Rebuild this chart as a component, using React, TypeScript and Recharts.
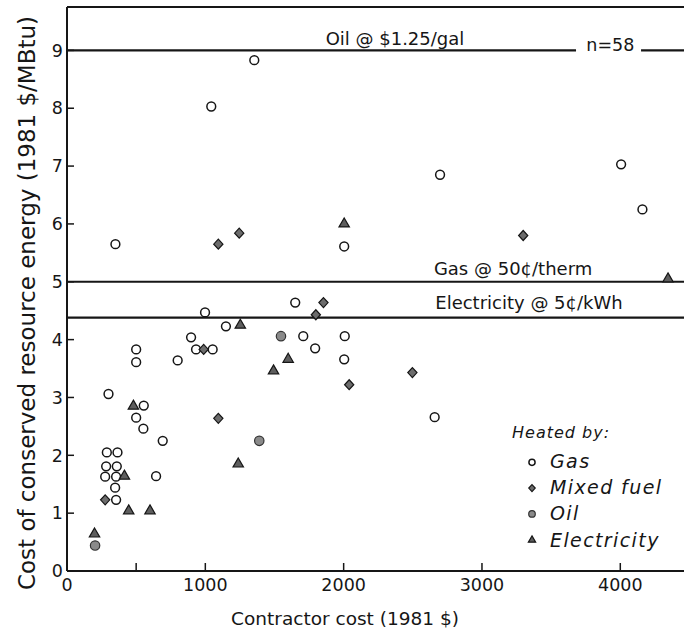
import {
  Legend,
  ReferenceDot,
  ReferenceLine,
  Scatter,
  ScatterChart,
  XAxis,
  YAxis,
} from "recharts";

const FONT = '"DejaVu Sans", "Liberation Sans", sans-serif';
const INK = "#161616";

// [contractor cost (1981 $), cost of conserved energy (1981 $/MBtu)]
const gasHomes: [number, number][] = [
  [350, 5.65], [2004, 5.61], [1043, 8.03], [1354, 8.83], [2697, 6.85],
  [4006, 7.03], [4160, 6.25], [998, 4.47], [1650, 4.64], [1149, 4.23],
  [897, 4.04], [933, 3.83], [1053, 3.83], [800, 3.64], [1708, 4.06],
  [1794, 3.85], [2008, 4.06], [2004, 3.66], [500, 3.83], [500, 3.61],
  [300, 3.06], [555, 2.86], [500, 2.65], [552, 2.46], [692, 2.25],
  [644, 1.64], [288, 2.05], [365, 2.05], [283, 1.81], [360, 1.81],
  [276, 1.63], [355, 1.63], [348, 1.44], [355, 1.23], [2658, 2.66],
];
const mixedHomes: [number, number][] = [
  [1094, 5.65], [1245, 5.84], [3298, 5.8], [1854, 4.64], [1799, 4.43],
  [988, 3.83], [2040, 3.22], [1094, 2.64], [276, 1.23], [2497, 3.43],
];
const oilHomes: [number, number][] = [
  [1547, 4.06], [1390, 2.25], [203, 0.44],
];
const electricHomes: [number, number][] = [
  [2004, 6.01], [4345, 5.06], [1253, 4.26], [1599, 3.67], [1493, 3.47],
  [480, 2.86], [415, 1.65], [446, 1.05], [600, 1.05], [1238, 1.86],
  [199, 0.65],
];

const seriesNames = ["Gas", "Mixed fuel", "Oil", "Electricity"];

const xTicks = [0, 500, 1000, 2000, 3000, 4000];
const xTopTicks = [500, 1000, 2000, 3000, 4000];
const yTicks = [0, 1, 2, 3, 4, 5, 6, 7, 8, 9];
const yRightTicks = [1, 2, 3, 4, 5, 6, 7, 8];

const OIL_PRICE = 9;
const GAS_PRICE = 5;
const ELECTRIC_PRICE = 4.38;

const toPoints = (rows: [number, number][]) =>
  rows.map(([x, y]) => ({ x, y }));

const drawMarker = (kind: string, cx: number, cy: number, s = 1) => {
  if (kind === "Gas") {
    return (
      <circle cx={cx} cy={cy} r={4.4 * s} fill="none" stroke={INK} strokeWidth={1.5} />
    );
  }
  if (kind === "Mixed fuel") {
    const w = 4.6 * s;
    const h = 5 * s;
    return (
      <polygon
        points={`${cx},${cy - h} ${cx + w},${cy} ${cx},${cy + h} ${cx - w},${cy}`}
        fill="#6c6c6c"
        stroke={INK}
        strokeWidth={1.2}
      />
    );
  }
  if (kind === "Oil") {
    return (
      <circle cx={cx} cy={cy} r={4.7 * s} fill="#8a8a8a" stroke="#333" strokeWidth={1.2} />
    );
  }
  const w = 5.2 * s;
  return (
    <polygon
      points={`${cx},${cy - 5.4 * s} ${cx + w},${cy + 3.6 * s} ${cx - w},${cy + 3.6 * s}`}
      fill="#5e5e5e"
      stroke={INK}
      strokeWidth={1.2}
    />
  );
};

const shapeFor = (kind: string) => (props: any) => drawMarker(kind, props.cx, props.cy);

const annotation = (text: string, dy: number, size = 18) => (props: any) => (
  <text
    x={props.viewBox.x}
    y={props.viewBox.y + dy}
    textAnchor="middle"
    fontFamily={FONT}
    fontSize={size}
    fill={INK}
  >
    {text}
  </text>
);

const renderLegend = () => (
  <svg width={190} height={140}>
    <text x={12} y={18} fontFamily={FONT} fontStyle="italic" fontSize={16} fill={INK} letterSpacing={1}>
      Heated by:
    </text>
    {seriesNames.map((name, i) => (
      <g key={name}>
        {drawMarker(name, 32, 42.3 + i * 25.8, 0.7)}
        <text
          x={50}
          y={48 + i * 26.2}
          fontFamily={FONT}
          fontStyle="italic"
          fontSize={19}
          letterSpacing={1.4}
          fill={INK}
        >
          {name}
        </text>
      </g>
    ))}
  </svg>
);

const tickStyle = { fontFamily: FONT, fontSize: 17.5, fill: INK };

export default function App() {
  return (
    <div
      style={{
        position: "absolute",
        left: 0,
        top: 0,
        width: 684,
        height: 632,
        overflow: "hidden",
        background: "#fff",
      }}
    >
      <ScatterChart width={690} height={632} margin={{ top: 0, right: 0, bottom: 0, left: 0 }}>
        <XAxis
          type="number"
          dataKey="x"
          domain={[0, 4475]}
          ticks={xTicks}
          interval={0}
          height={61}
          tickSize={-8}
          tickMargin={16}
          tickFormatter={(v) => (v === 500 ? "" : String(v))}
          tick={tickStyle}
          axisLine={{ stroke: INK, strokeWidth: 2 }}
          tickLine={{ stroke: INK, strokeWidth: 1.5 }}
          label={{
            content: () => (
              <text x={345} y={625} textAnchor="middle" fontFamily={FONT} fontSize={18.5} fill={INK}>
                Contractor cost (1981 $)
              </text>
            ),
          }}
        />
        <XAxis
          xAxisId="top"
          orientation="top"
          type="number"
          domain={[0, 4475]}
          ticks={xTopTicks}
          interval={0}
          height={7}
          tickSize={-8}
          tick={false}
          axisLine={{ stroke: INK, strokeWidth: 2 }}
          tickLine={{ stroke: INK, strokeWidth: 1.5 }}
        />
        <YAxis
          type="number"
          dataKey="y"
          domain={[0, 9.75]}
          ticks={yTicks}
          interval={0}
          width={67}
          tickSize={-7}
          tickMargin={11}
          tick={tickStyle}
          axisLine={{ stroke: INK, strokeWidth: 2 }}
          tickLine={{ stroke: INK, strokeWidth: 1.5 }}
          label={{
            content: () => (
              <text
                x={35}
                y={303}
                transform="rotate(-90, 35, 303)"
                textAnchor="middle"
                fontFamily={FONT}
                fontSize={23}
                fill={INK}
              >
                Cost of conserved resource  energy (1981 $/MBtu)
              </text>
            ),
          }}
        />
        <YAxis
          yAxisId="right"
          orientation="right"
          type="number"
          domain={[0, 9.75]}
          ticks={yRightTicks}
          interval={0}
          width={4}
          tickSize={-7}
          tick={false}
          axisLine={{ stroke: INK, strokeWidth: 2 }}
          tickLine={{ stroke: INK, strokeWidth: 1.5 }}
        />

        <ReferenceLine
          segment={[{ x: 0, y: OIL_PRICE }, { x: 3680, y: OIL_PRICE }]}
          stroke={INK}
          strokeWidth={2.2}
        />
        <ReferenceLine
          segment={[{ x: 4150, y: OIL_PRICE }, { x: 4475, y: OIL_PRICE }]}
          stroke={INK}
          strokeWidth={2.2}
        />
        <ReferenceLine y={GAS_PRICE} stroke={INK} strokeWidth={2.2} />
        <ReferenceLine y={ELECTRIC_PRICE} stroke={INK} strokeWidth={2.2} />

        <ReferenceDot x={2371} y={OIL_PRICE} r={0} fill="none" stroke="none" label={{ content: annotation("Oil @ $1.25/gal", -5) }} />
        <ReferenceDot x={3928} y={OIL_PRICE} r={0} fill="none" stroke="none" label={{ content: annotation("n=58", 1, 17.5) }} />
        <ReferenceDot x={3225} y={GAS_PRICE} r={0} fill="none" stroke="none" label={{ content: annotation("Gas @ 50¢/therm", -7) }} />
        <ReferenceDot x={3340} y={ELECTRIC_PRICE} r={0} fill="none" stroke="none" label={{ content: annotation("Electricity @ 5¢/kWh", -9) }} />

        <Scatter name={seriesNames[0]} data={toPoints(gasHomes)} shape={shapeFor(seriesNames[0])} isAnimationActive={false} />
        <Scatter name={seriesNames[1]} data={toPoints(mixedHomes)} shape={shapeFor(seriesNames[1])} isAnimationActive={false} />
        <Scatter name={seriesNames[2]} data={toPoints(oilHomes)} shape={shapeFor(seriesNames[2])} isAnimationActive={false} />
        <Scatter name={seriesNames[3]} data={toPoints(electricHomes)} shape={shapeFor(seriesNames[3])} isAnimationActive={false} />

        <Legend
          layout="vertical"
          align="center"
          verticalAlign="middle"
          width={190}
          content={renderLegend}
          wrapperStyle={{ left: 500, top: 420, width: 190, height: 140 }}
        />
      </ScatterChart>
    </div>
  );
}
